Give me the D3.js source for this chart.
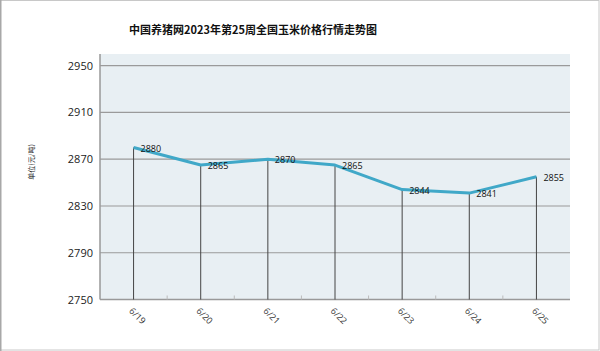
<!DOCTYPE html>
<html><head><meta charset="utf-8">
<script src="https://cdn.jsdelivr.net/npm/d3@7"></script>
<style>body{margin:0;background:#fff;}svg{display:block;}</style>
</head><body>
<script>
const title = "中国养猪网2023年第25周全国玉米价格行情走势图";
const yTitle = "单位(元/吨)";
const categories = ["6/19","6/20","6/21","6/22","6/23","6/24","6/25"];
const values = [2880, 2865, 2870, 2865, 2844, 2841, 2855];
const yTicks = [2750, 2790, 2830, 2870, 2910, 2950];

const W = 600, H = 351;
const svg = d3.select("body").append("svg").attr("width", W).attr("height", H);
svg.append("rect").attr("x",0.5).attr("y",0.5).attr("width",W-1.5).attr("height",H-1.5)
  .attr("fill","#fff").attr("stroke","#c8c8c8");
svg.append("line").attr("x1",0.75).attr("x2",0.75).attr("y1",0).attr("y2",H).attr("stroke","#a8a8a8").attr("stroke-width",1.5);

const L = 100, R = 570, T = 54, B = 299.5;
const x = d3.scaleBand().domain(categories).range([L, R]).padding(0);
const y = d3.scaleLinear().domain([2750, 2960]).range([B, T]);

svg.append("rect").attr("x",L).attr("y",T).attr("width",R-L).attr("height",B-T).attr("fill","#E8EFF3");

// gridlines
svg.append("g").selectAll("line").data(yTicks.slice(1)).join("line")
  .attr("x1",L).attr("x2",R).attr("y1",d=>y(d)).attr("y2",d=>y(d))
  .attr("stroke","#9a9a9a").attr("stroke-width",1.2);

// y axis
const yAxis = d3.axisLeft(y).tickValues(yTicks).tickFormat(d3.format("d")).tickSize(0).tickPadding(7);
const gy = svg.append("g").attr("transform",`translate(${L},0)`).call(yAxis);
gy.select(".domain").remove();
gy.selectAll("text").attr("font-family","'Open Sans', 'Noto Sans', sans-serif").attr("font-size","11px").attr("fill","#222");
svg.append("line").attr("x1",L).attr("x2",L).attr("y1",T).attr("y2",B).attr("stroke","#999").attr("stroke-width",1.5);

// x axis baseline and ticks
const gx = svg.append("g").attr("transform",`translate(0,${B})`);
gx.append("line").attr("x1",L).attr("x2",R).attr("stroke","#999").attr("stroke-width",1.5);
gx.selectAll(".minor").data(categories.slice(1)).join("line")
  .attr("x1",d=>x(d)).attr("x2",d=>x(d)).attr("y1",0).attr("y2",-4).attr("stroke","#bbb");
gx.selectAll("text").data(categories).join("text")
  .attr("transform",d=>`translate(${x(d)+x.bandwidth()/2-5},${12}) rotate(45)`)
  .attr("font-family","'Open Sans', 'Noto Sans', sans-serif").attr("font-size","9px").attr("fill","#333")
  .text(d=>d);

// drop lines
const cx = d => x(d) + x.bandwidth()/2;
svg.append("g").selectAll("line").data(categories).join("line")
  .attr("x1",d=>cx(d)).attr("x2",d=>cx(d))
  .attr("y1",(d,i)=>y(values[i])).attr("y2",B)
  .attr("stroke","#444").attr("stroke-width",1);

// line
const line = d3.line().x((d,i)=>cx(categories[i])).y(d=>y(d));
svg.append("path").datum(values).attr("d",line).attr("fill","none")
  .attr("stroke","#40A8C8").attr("stroke-width",3).attr("stroke-linejoin","round");

// labels
svg.append("g").selectAll("text").data(values).join("text")
  .attr("x",(d,i)=>cx(categories[i])+7).attr("y",d=>y(d)+4)
  .attr("font-family","'Open Sans', 'Noto Sans', sans-serif").attr("font-size","9px").attr("fill","#111")
  .text(d=>d);

// title
svg.append("text").attr("x",253).attr("y",34).attr("text-anchor","middle")
  .attr("font-family","'Noto Sans CJK SC', sans-serif").attr("font-size","11px").attr("font-weight","bold").attr("fill","#111")
  .text(title);

svg.append("text").attr("transform","translate(34,162) rotate(-90)").attr("text-anchor","middle")
  .attr("font-family","'Noto Sans CJK SC', sans-serif").attr("font-size","7px").attr("fill","#222")
  .text(yTitle);
</script>
</body></html>
